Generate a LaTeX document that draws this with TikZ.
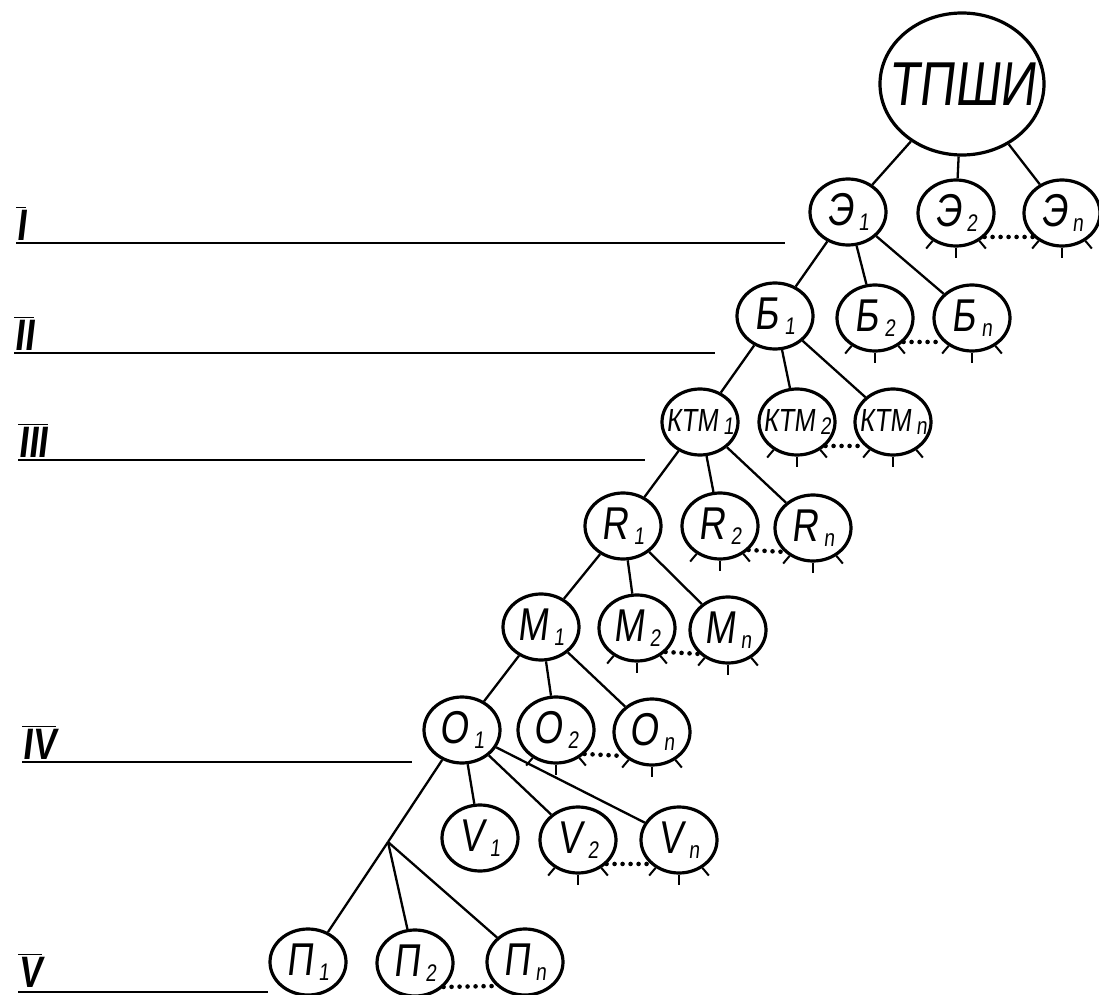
\documentclass[tikz,border=0pt]{standalone}
\usepackage{fontspec}
\newfontfamily\hand[FakeStretch=0.8,FakeSlant=0.12]{Liberation Sans}
\usetikzlibrary{shapes.geometric}
\newcommand{\ix}[1]{\kern2.6pt\raisebox{-0.12em}{\fontsize{12}{12}\selectfont #1}}
\newcommand{\squeeze}[1]{\makebox[0pt]{#1}}
\newcommand{\lv}[1]{$\overline{\hbox{#1}}$}

\begin{document}
\begin{tikzpicture}
            [
                x = 0.5pt, y = -0.5pt,
                unit/.style  = {shape=ellipse, draw, line width=1.6pt,
                minimum width=38pt, minimum height=33pt, inner sep=0pt,
                font=\hand\fontsize{23}{23}\selectfont},
                small/.style = {font=\hand\fontsize{16}{16}\selectfont},
                root/.style  = {unit, minimum width=82pt, minimum height=71pt,
                font=\hand\fontsize{31}{31}\selectfont},
                level/.style = {inner sep=0pt, anchor=south west,
                font=\hand\bfseries\fontsize{22}{22}\selectfont},
                edge/.style  = {line width=1.15pt},
                rule/.style  = {line width=1.4pt},
                tick/.style  = {line width=1pt},
                dots/.style  = {line width=2.3pt, line cap=round,
                dash pattern=on 0pt off 4pt}
            ]
            \useasboundingbox (0,0) rectangle (1099,995);

            % tree
            \node[root] (T)  at (962,84)  {\squeeze{ТПШИ}};
            \node[unit] (E1) at (848,212) {Э\ix{1}};
            \node[unit] (E2) at (956,213) {Э\ix{2}};
            \node[unit] (En) at (1062,213) {Э\ix{n}};
            \node[unit] (B1) at (775,316) {Б\ix{1}};
            \node[unit] (B2) at (875,318) {Б\ix{2}};
            \node[unit] (Bn) at (972,318) {Б\ix{n}};
            \node[unit,small] (K1) at (700,422) {\squeeze{КТМ\ix{1}}};
            \node[unit,small] (K2) at (797,422) {\squeeze{КТМ\ix{2}}};
            \node[unit,small] (Kn) at (893,422) {\squeeze{КТМ\ix{n}}};
            \node[unit] (R1) at (623,526) {R\ix{1}};
            \node[unit] (R2) at (720,526) {R\ix{2}};
            \node[unit] (Rn) at (813,528) {R\ix{n}};
            \node[unit] (M1) at (541,627) {М\ix{1}};
            \node[unit] (M2) at (637,628) {М\ix{2}};
            \node[unit] (Mn) at (728,630) {М\ix{n}};
            \node[unit] (O1) at (462,730) {О\ix{1}};
            \node[unit] (O2) at (556,730) {О\ix{2}};
            \node[unit] (On) at (652,732) {О\ix{n}};
            \node[unit] (V1) at (480,838) {V\ix{1}};
            \node[unit] (V2) at (578,840) {V\ix{2}};
            \node[unit] (Vn) at (679,840) {V\ix{n}};
            \node[unit] (P1) at (308,962) {П\ix{1}};
            \node[unit] (P2) at (415,963) {П\ix{2}};
            \node[unit] (Pn) at (525,962) {П\ix{n}};
            \coordinate (fork) at (388,842);

            \foreach \p/\c in {T/E1,T/E2,T/En,E1/B1,E1/B2,E1/Bn,
                B1/K1,B1/K2,B1/Kn,K1/R1,K1/R2,K1/Rn,R1/M1,R1/M2,R1/Mn,
                M1/O1,M1/O2,M1/On,O1/V1,O1/V2,O1/Vn}
                \draw[edge] (\p) -- (\c);
            \draw[edge] (O1) -- (fork);
            \foreach \c in {P1,P2,Pn}
                \draw[edge] (fork) -- (\c);

            % ticks and dots
            \foreach \n in {E2,En,B2,Bn,K2,Kn,R2,Rn,M2,Mn,O2,On,V2,Vn}
                \foreach \a in {-130,-90,-50}
                    \draw[tick] (\n.\a) -- ++(\a:5pt);
            \foreach \a/\b in {E2/En,B2/Bn,K2/Kn,R2/Rn,M2/Mn,O2/On,V2/Vn,P2/Pn}
                \draw[dots] (\a.-40) -- (\b.-140);

            % levels
            \node[level] (lI)   at (16,241) {\lv{I}};
            \node[level] (lII)  at (14,351) {\lv{II}};
            \node[level] (lIII) at (18,458) {\lv{III}};
            \node[level] (lIV)  at (22,760) {\lv{IV}};
            \node[level] (lV)   at (18,988) {\lv{V}};
            \coordinate (eI)   at (785,243);
            \coordinate (eII)  at (715,353);
            \coordinate (eIII) at (645,460);
            \coordinate (eIV)  at (412,762);
            \coordinate (eV)   at (268,992);
            \foreach \l in {I,II,III,IV,V}
                \draw[rule] (l\l.west |- e\l) -- (e\l);
        \end{tikzpicture}
\end{document}
